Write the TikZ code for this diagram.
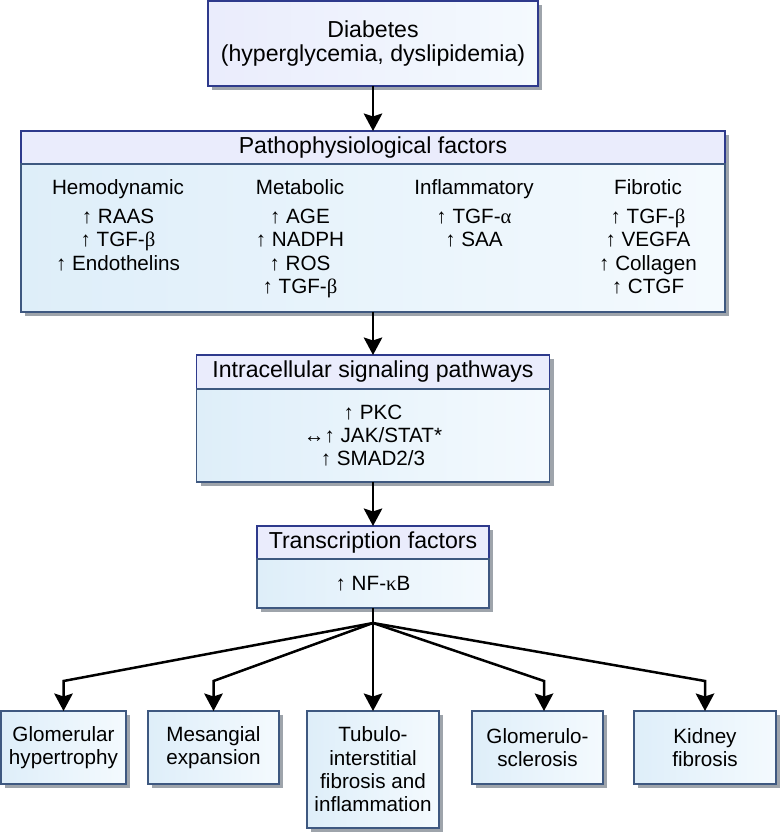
\documentclass[tikz,border=0pt]{standalone}
\usepackage{fontspec}
\setmainfont{Liberation Sans}
\newfontfamily\grk{Liberation Serif}
\usetikzlibrary{arrows.meta, positioning, shadows}

\definecolor{hdrfill}{RGB}{234,236,252}
\definecolor{hdrline}{RGB}{46,58,140}
\definecolor{bodyline}{RGB}{62,88,128}
\definecolor{bodyleft}{RGB}{222,238,249}
\definecolor{bodyright}{RGB}{244,250,254}
\definecolor{shadegray}{RGB}{158,164,171}

\newcommand\hdrfont{\fontsize{13.15}{13.6}\selectfont}
\newcommand\txtfont{\fontsize{11.75}{13.3}\selectfont}

\begin{document}
\begin{tikzpicture}[headbox/.style={rectangle,
					draw=hdrline,
					line width=0.03cm,
					fill=hdrfill,
					inner sep=0pt,
					outer sep=0pt,
					font=\hdrfont,
					drop shadow={shadow xshift=0.08cm, shadow yshift=-0.08cm, fill=shadegray, opacity=1}},
					bodybox/.style={rectangle,
					draw=bodyline,
					line width=0.03cm,
					left color=bodyleft,
					right color=bodyright,
					inner sep=0pt,
					outer sep=0pt,
					align=center,
					font=\txtfont,
					drop shadow={shadow xshift=0.08cm, shadow yshift=-0.08cm, fill=shadegray, opacity=1}},
					endbox/.style={bodybox,
					minimum height=1.46cm},
					colnode/.style={font=\txtfont,
					align=center,
					inner sep=0pt,
					anchor=north},
					flow/.style={line width=0.05cm, black,
					-{Stealth[length=0.35cm, width=0.37cm, inset=0.06cm]}}
					]

\useasboundingbox (0,0) rectangle (15.6,-16.66);

% cause
\node[headbox, left color=hdrfill, right color=bodyright, align=center,
      minimum width=6.6cm, minimum height=1.7cm, anchor=north] (diab) at (7.46,-0.02)
      {Diabetes\\(hyperglycemia, dyslipidemia)};

% factor box
\node[headbox, minimum width=14.08cm, minimum height=0.66cm] (pathhead) [below=0.9cm of diab] {Pathophysiological factors};
\node[bodybox, minimum width=14.08cm, minimum height=2.96cm] (pathbody) [below=0pt of pathhead] {};

% factor columns
\node[colnode] (hemo) at (2.36,-3.59) {Hemodynamic\\[3pt] ↑ RAAS\\ ↑ TGF-{\grk β}\\ ↑ Endothelins};
\node[colnode] (meta) at (6.0,-3.59) {Metabolic\\[3pt] ↑ AGE\\ ↑ NADPH\\ ↑ ROS\\ ↑ TGF-{\grk β}};
\node[colnode] (infl) at (9.48,-3.59) {Inflammatory\\[3pt] ↑ TGF-{\grk α}\\ ↑ SAA};
\node[colnode] (fibr) at (12.96,-3.59) {Fibrotic\\[3pt] ↑ TGF-{\grk β}\\ ↑ VEGFA\\ ↑ Collagen\\ ↑ CTGF};

% signaling
\node[headbox, minimum width=7.06cm, minimum height=0.68cm] (sighead) [below=0.86cm of pathbody] {Intracellular signaling pathways};
\node[bodybox, minimum width=7.06cm, minimum height=1.86cm] (sigbody) [below=0pt of sighead] {↑ PKC\\ ↔↑ JAK/STAT*\\ ↑ SMAD2/3};

% transcription
\node[headbox, minimum width=4.64cm, minimum height=0.66cm] (tfhead) [below=0.88cm of sigbody] {Transcription factors};
\node[bodybox, minimum width=4.64cm, minimum height=0.98cm] (tfbody) [below=0pt of tfhead] {↑ NF-{\grk κ}B};

% outcome nodes
\node[bodybox, minimum width=2.64cm, minimum height=2.34cm] (tub) [below=2.06cm of tfbody] {Tubulo-\\interstitial\\fibrosis and\\inflammation};
\node[endbox, minimum width=2.62cm] (mes) [left=0.56cm of tub.north west, anchor=north east] {Mesangial\\expansion};
\node[endbox, minimum width=2.5cm] (glom) [left=0.44cm of mes.north west, anchor=north east] {Glomerular\\hypertrophy};
\node[endbox, minimum width=2.62cm] (gsc) [right=0.66cm of tub.north east, anchor=north west] {Glomerulo-\\sclerosis};
\node[endbox, minimum width=2.84cm] (kid) [right=0.62cm of gsc.north east, anchor=north west] {Kidney\\fibrosis};

% branch points
\coordinate[below=0.3cm of tfbody] (split);
\coordinate[above=0.6cm of glom.north] (knee1);
\coordinate[above=0.6cm of mes.north] (knee2);
\coordinate[above right=0.6cm and 0.13cm of gsc.north] (knee4);
\coordinate[above=0.6cm of kid.north] (knee5);

% arrows down the chain
\path[flow] (diab) edge (pathhead);
\path[flow] (pathbody) edge (sighead);
\path[flow] (sigbody) edge (tfhead);

% arrows to outcomes
\draw[line width=0.05cm] (tfbody) -- (split);
\draw[flow] (split) -- (knee1) -- (glom);
\draw[flow] (split) -- (knee2) -- (mes);
\draw[flow] (split) -- (tub);
\draw[flow] (split) -- (knee4) -- (knee4 |- gsc.north);
\draw[flow] (split) -- (knee5) -- (kid);

\end{tikzpicture}
\end{document}
